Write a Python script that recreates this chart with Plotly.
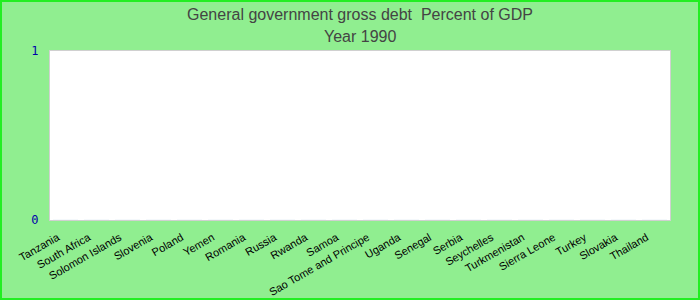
import plotly.graph_objects as go

countries = ["Tanzania", "South Africa", "Solomon Islands", "Slovenia", "Poland",
             "Yemen", "Romania", "Russia", "Rwanda", "Samoa",
             "Sao Tome and Principe", "Uganda", "Senegal", "Serbia", "Seychelles",
             "Turkmenistan", "Sierra Leone", "Turkey", "Slovakia", "Thailand"]
debt_values = [0] * len(countries)
y_ticks = [0, 1]
title_line1 = "General government gross debt  Percent of GDP"
title_line2 = "Year 1990"

W, H = 700, 300
ML, MR, MT, MB = 50, 30, 51, 80
PW, PH = W - ML - MR, H - MT - MB

fig = go.Figure(go.Bar(x=countries, y=debt_values, marker_color="#4a90d9"))

title_font = dict(family="Liberation Sans, Arial, sans-serif", size=16, color="#444")

fig.update_layout(
    width=W, height=H,
    margin=dict(l=ML, r=MR, t=MT, b=MB, pad=0),
    paper_bgcolor="#90EE90",
    plot_bgcolor="white",
    title=dict(
        text=title_line1,
        x=0.5, xanchor="center", xref="paper",
        yref="container", y=1 - 14 / H, yanchor="middle",
        font=title_font,
    ),
    annotations=[dict(
        text=title_line2, xref="paper", yref="paper",
        x=0.5, xanchor="center", y=1 + (MT - 36) / PH, yanchor="middle",
        showarrow=False, font=title_font,
    )],
    showlegend=False,
    xaxis=dict(
        tickangle=-30,
        tickfont=dict(family="Liberation Sans, Arial, sans-serif", size=11, color="black"),
        showline=True, linecolor="#d0d0d0", mirror=True, linewidth=1,
        showgrid=False, automargin=False,
        ticklabelshift=-8, ticklabelstandoff=6,
    ),
    yaxis=dict(
        range=[0, 1], tickvals=y_ticks,
        tickfont=dict(family="DejaVu Sans Mono, monospace", size=12, color="#0000AA"),
        showline=True, linecolor="#d0d0d0", mirror=True, linewidth=1,
        showgrid=False, zeroline=False, ticklabelstandoff=8, automargin=False,
    ),
    shapes=[dict(
        type="rect", xref="paper", yref="paper",
        x0=(-ML + 1) / PW, x1=1 + (MR - 1) / PW,
        y0=(-MB + 1) / PH, y1=1 + (MT - 1) / PH,
        line=dict(color="#22ee22", width=2), fillcolor="rgba(0,0,0,0)", layer="above",
    )],
)

fig.write_html("out.html")
